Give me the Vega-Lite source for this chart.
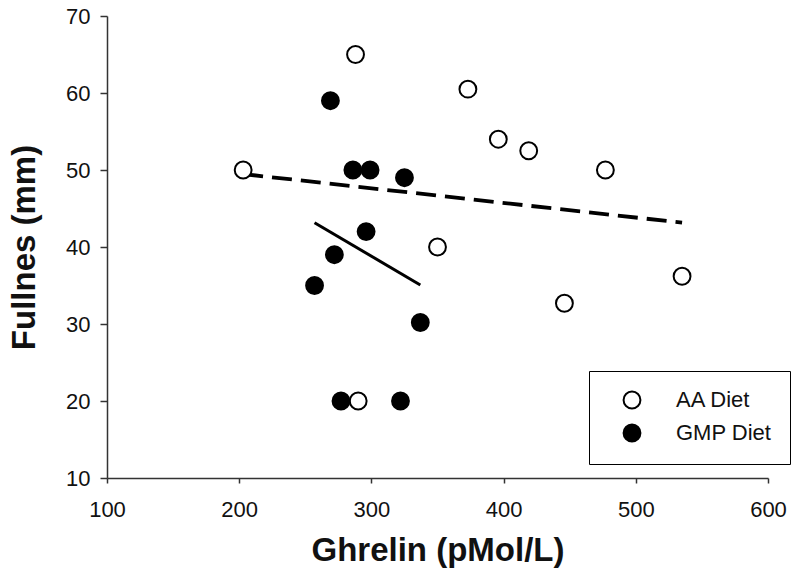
{
  "$schema": "https://vega.github.io/schema/vega-lite/v6.json",
  "width": 661,
  "height": 462,
  "autosize": "none",
  "padding": {"left": 107, "top": 16, "right": 32, "bottom": 102},
  "background": "white",
  "config": {
    "view": {"stroke": null},
    "font": "Liberation Sans",
    "axis": {
      "grid": false,
      "labelFlush": false,
      "labelOverlap": false,
      "domainColor": "#333",
      "domainWidth": 1.5,
      "tickColor": "#333",
      "tickWidth": 1.5,
      "labelFont": "Liberation Sans",
      "labelFontSize": 22,
      "labelColor": "#111",
      "titleFont": "Liberation Sans",
      "titleFontSize": 33,
      "titleFontWeight": "bold",
      "titleColor": "#111"
    }
  },
  "datasets": {
    "points": [
      {"ghrelin": 203, "fullness": 50, "diet": "AA Diet"},
      {"ghrelin": 288, "fullness": 65, "diet": "AA Diet"},
      {"ghrelin": 373, "fullness": 60.5, "diet": "AA Diet"},
      {"ghrelin": 396, "fullness": 54, "diet": "AA Diet"},
      {"ghrelin": 419, "fullness": 52.5, "diet": "AA Diet"},
      {"ghrelin": 477, "fullness": 50, "diet": "AA Diet"},
      {"ghrelin": 350, "fullness": 40, "diet": "AA Diet"},
      {"ghrelin": 535, "fullness": 36.2, "diet": "AA Diet"},
      {"ghrelin": 446, "fullness": 32.7, "diet": "AA Diet"},
      {"ghrelin": 290, "fullness": 20, "diet": "AA Diet"},
      {"ghrelin": 269, "fullness": 59, "diet": "GMP Diet"},
      {"ghrelin": 286, "fullness": 50, "diet": "GMP Diet"},
      {"ghrelin": 299, "fullness": 50, "diet": "GMP Diet"},
      {"ghrelin": 325, "fullness": 49, "diet": "GMP Diet"},
      {"ghrelin": 296, "fullness": 42, "diet": "GMP Diet"},
      {"ghrelin": 272, "fullness": 39, "diet": "GMP Diet"},
      {"ghrelin": 257, "fullness": 35, "diet": "GMP Diet"},
      {"ghrelin": 337, "fullness": 30.2, "diet": "GMP Diet"},
      {"ghrelin": 277, "fullness": 20, "diet": "GMP Diet"},
      {"ghrelin": 322, "fullness": 20, "diet": "GMP Diet"}
    ],
    "fits": [
      {"ghrelin": 203, "fullness": 49.47, "diet": "AA Diet"},
      {"ghrelin": 535, "fullness": 43.16, "diet": "AA Diet"},
      {"ghrelin": 257, "fullness": 43.16, "diet": "GMP Diet"},
      {"ghrelin": 337, "fullness": 35.06, "diet": "GMP Diet"}
    ]
  },
  "layer": [
    {
      "data": {"name": "fits"},
      "transform": [{"filter": "datum.diet === 'AA Diet'"}],
      "mark": {"type": "line", "color": "black", "strokeWidth": 3.8, "strokeDash": [20, 9]},
      "encoding": {
        "x": {"field": "ghrelin", "type": "quantitative"},
        "y": {"field": "fullness", "type": "quantitative"}
      }
    },
    {
      "data": {"name": "fits"},
      "transform": [{"filter": "datum.diet === 'GMP Diet'"}],
      "mark": {"type": "line", "color": "black", "strokeWidth": 3},
      "encoding": {
        "x": {"field": "ghrelin", "type": "quantitative"},
        "y": {"field": "fullness", "type": "quantitative"}
      }
    },
    {
      "data": {"name": "points"},
      "mark": {"type": "point", "shape": "circle", "filled": true, "size": 284, "stroke": "black", "strokeWidth": 2, "opacity": 1},
      "encoding": {
        "x": {
          "field": "ghrelin", "type": "quantitative",
          "scale": {"domain": [100, 600], "nice": false, "zero": false},
          "axis": {"values": [100, 200, 300, 400, 500, 600], "tickSize": 5, "labelPadding": 16, "title": "Ghrelin (pMol/L)", "titlePadding": 14}
        },
        "y": {
          "field": "fullness", "type": "quantitative",
          "scale": {"domain": [10, 70], "nice": false, "zero": false},
          "axis": {"values": [10, 20, 30, 40, 50, 60, 70], "tickSize": 7, "labelPadding": 10, "title": "Fullnes (mm)", "titlePadding": 24}
        },
        "fill": {
          "field": "diet", "type": "nominal",
          "scale": {"domain": ["AA Diet", "GMP Diet"], "range": ["white", "black"]},
          "legend": {
            "title": null,
            "orient": "none",
            "legendX": 482,
            "legendY": 355,
            "padding": 18,
            "strokeColor": "black",
            "fillColor": "white",
            "symbolType": "circle",
            "symbolSize": 284,
            "symbolStrokeColor": "black",
            "symbolStrokeWidth": 2,
            "symbolOffset": 14,
            "labelOffset": 33,
            "labelFontSize": 22,
            "labelFont": "Liberation Sans",
            "labelColor": "#111",
            "rowPadding": 7
          }
        }
      }
    }
  ]
}
